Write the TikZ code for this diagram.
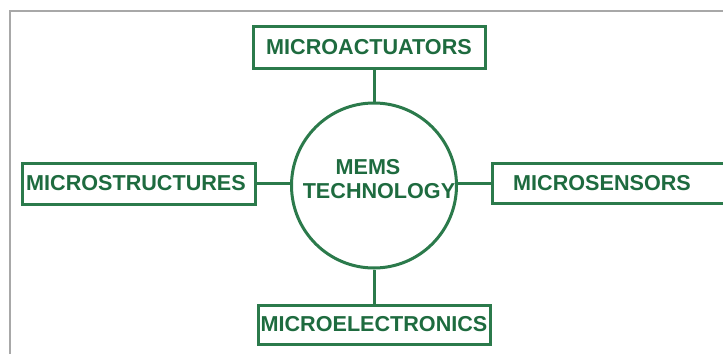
\documentclass[tikz,border=0pt]{standalone}
\usepackage{fontspec}
\setmainfont{Liberation Sans}
\definecolor{memsline}{HTML}{2B7A4B}
\definecolor{memstext}{HTML}{1E6B3F}
\definecolor{framegray}{HTML}{A8A8A8}
\begin{document}
\begin{tikzpicture}[x=1pt,y=-1pt,
  boxnode/.style={draw=memsline,line width=3pt,rectangle,inner sep=0pt,
    font=\fontsize{21.6}{24}\selectfont\bfseries,text=memstext},
  hubnode/.style={draw=memsline,line width=3pt,circle,inner sep=0pt,minimum size=165pt},
  hubtext/.style={font=\fontsize{21.6}{24}\selectfont\bfseries,text=memstext,inner sep=0pt},
  link/.style={draw=memsline,line width=3pt}]
\useasboundingbox (0,0) rectangle (723,354);
\draw[framegray,line width=1.5pt] (10,354) -- (10,11) -- (723,11);
\node[hubnode] (hub) at (374,185.5) {};
\node[hubtext] (t1) at (368,167.5) {MEMS};
\node[hubtext] (t2) at (379,191) {TECHNOLOGY};
\node[boxnode,minimum width=232pt,minimum height=42pt] (top) at (369,47) {MICROACTUATORS};
\node[boxnode,minimum width=233pt,minimum height=41pt] (left) at (138.5,183.5) {\hspace*{-5pt}MICROSTRUCTURES};
\node[boxnode,minimum width=232pt,minimum height=40pt] (right) at (608,183) {\hspace*{-12pt}MICROSENSORS};
\node[boxnode,minimum width=232pt,minimum height=39pt] (bottom) at (374,324.5) {MICROELECTRONICS};
\draw[link] (top.south -| hub.north) -- (hub.north);
\draw[link] (hub.south) -- (bottom.north -| hub.south);
\draw[link] (left.east) -- (hub.west |- left.east);
\draw[link] (hub.east |- right.west) -- (right.west);
\end{tikzpicture}
\end{document}
